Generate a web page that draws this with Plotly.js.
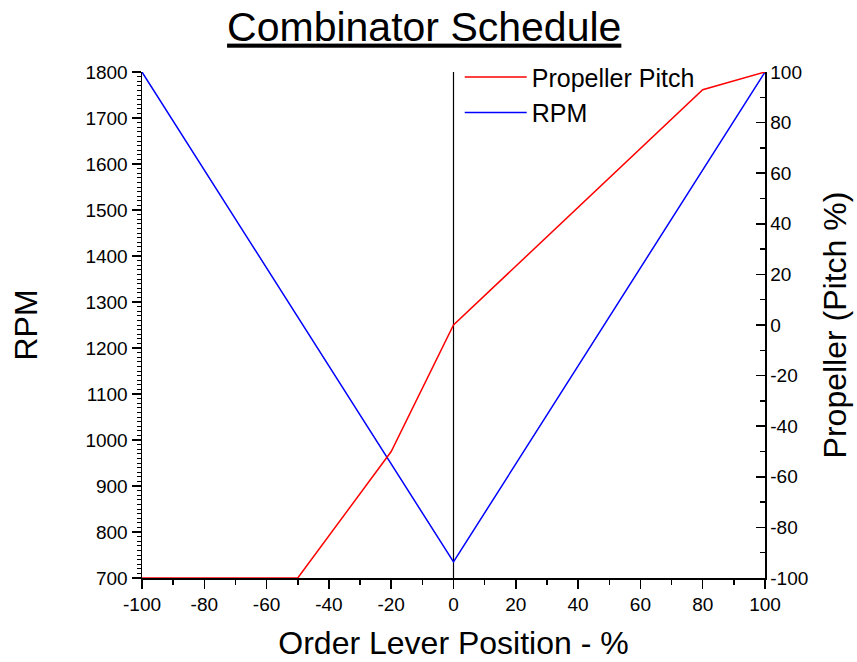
<!DOCTYPE html>
<html>
<head>
<meta charset="utf-8">
<script src="https://cdn.plot.ly/plotly-3.0.1.min.js"></script>
<style>html,body{margin:0;padding:0;background:#fff;}#chart{width:857px;height:662px;}</style>
</head>
<body>
<div id="chart"></div>
<script>
// Data
var leverPosPitch = [-100, -50, -20, 0, 80, 100];
var pitchPct = [-100, -100, -50, 0, 93, 100];
var leverPosRpm = [-100, 0, 100];
var rpmValues = [1800, 735, 1800];

// Tick values and labels (hyphen minus as in the reference)
var xTickVals = [-100, -80, -60, -40, -20, 0, 20, 40, 60, 80, 100];
var xTickText = ['-100', '-80', '-60', '-40', '-20', '0', '20', '40', '60', '80', '100'];
var y2TickVals = [-100, -80, -60, -40, -20, 0, 20, 40, 60, 80, 100];
var y2TickText = ['-100', '-80', '-60', '-40', '-20', '0', '20', '40', '60', '80', '100'];

var FONT = 'Liberation Sans, Arial, sans-serif';

var traces = [
  {x: leverPosPitch, y: pitchPct, name: 'Propeller Pitch', type: 'scatter', mode: 'lines',
   line: {color: '#ff0000', width: 1.5}, yaxis: 'y2'},
  {x: leverPosRpm, y: rpmValues, name: 'RPM', type: 'scatter', mode: 'lines',
   line: {color: '#0000ff', width: 1.5}, yaxis: 'y'}
];

var layout = {
  width: 857, height: 662,
  margin: {l: 142, r: 92, t: 72, b: 84},
  paper_bgcolor: '#fff', plot_bgcolor: '#fff',
  font: {family: FONT, color: '#000', size: 19},
  title: {text: '<u>Combinator Schedule</u>', font: {size: 41, family: FONT}, x: 0.495, xanchor: 'center', y: 0.982, yanchor: 'top'},
  showlegend: true,
  legend: {x: 0.51, xanchor: 'left', y: 1.035, yanchor: 'top', bgcolor: 'rgba(0,0,0,0)', font: {size: 25}, tracegroupgap: 0, itemwidth: 62},
  xaxis: {
    range: [-100, 100], tickvals: xTickVals, ticktext: xTickText, showgrid: false, zeroline: false,
    showline: true, linecolor: '#000', linewidth: 1.5,
    ticks: 'outside', ticklen: 9, tickwidth: 1.5, tickcolor: '#000',
    minor: {dtick: 10, ticks: 'outside', ticklen: 5, tickwidth: 1.5, tickcolor: '#000'},
    tickfont: {size: 19},
    title: {text: 'Order Lever Position - %', font: {size: 32}, standoff: 17}
  },
  yaxis: {
    range: [700, 1800], dtick: 100, tick0: 0, showgrid: false, zeroline: false,
    showline: true, linecolor: '#000', linewidth: 1.5,
    ticks: 'outside', ticklen: 9, tickwidth: 1.5, tickcolor: '#000',
    minor: {dtick: 10, ticks: 'outside', ticklen: 4, tickwidth: 1, tickcolor: '#000'},
    tickfont: {size: 19},
    title: {text: 'RPM', font: {size: 32}, standoff: 38}
  },
  yaxis2: {
    overlaying: 'y', side: 'right', anchor: 'x',
    range: [-100, 100], tickvals: y2TickVals, ticktext: y2TickText, showgrid: false, zeroline: false,
    showline: true, linecolor: '#000', linewidth: 1.5,
    ticks: 'inside', ticklen: 9, tickwidth: 1.5, tickcolor: '#000',
    minor: {dtick: 10, ticks: 'inside', ticklen: 5, tickwidth: 1.5, tickcolor: '#000'},
    tickfont: {size: 19},
    title: {text: 'Propeller (Pitch %)', font: {size: 32}, standoff: 16}
  },
  shapes: [
    {type: 'line', xref: 'x', yref: 'y domain', x0: 0, x1: 0, y0: 0, y1: 1, line: {color: '#000', width: 1.2}, layer: 'below'}
  ]
};

Plotly.newPlot('chart', traces, layout, {displayModeBar: false, staticPlot: true});
</script>
</body>
</html>
